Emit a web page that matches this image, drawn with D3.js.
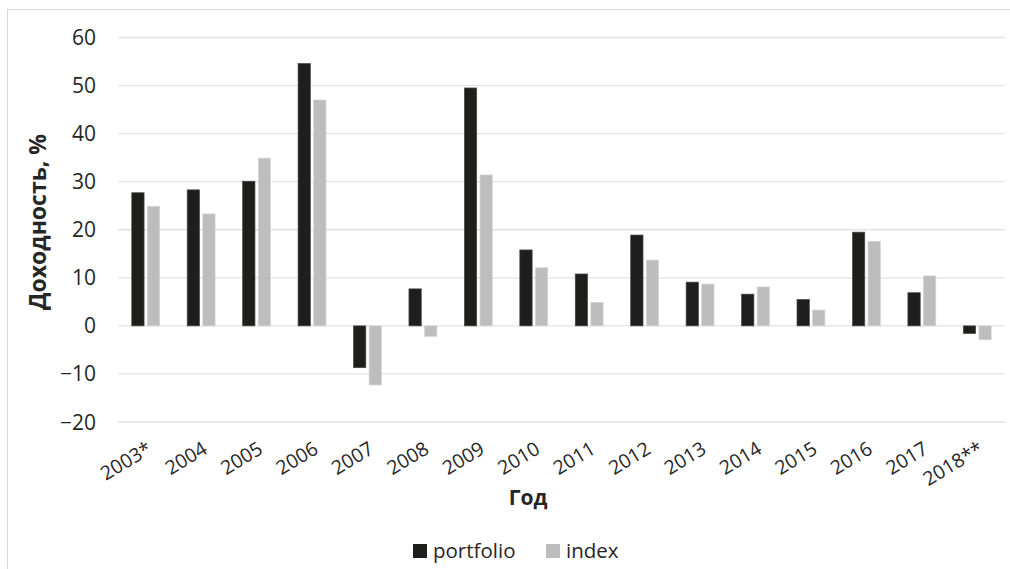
<!DOCTYPE html>
<html>
<head>
<meta charset="utf-8">
<script src="https://cdn.jsdelivr.net/npm/d3@7.9.0/dist/d3.min.js"></script>
<style>
  body { margin: 0; background: #fff; }
  svg { display: block; font-family: 'Open Sans', sans-serif; }
</style>
</head>
<body>
<svg id="chart" width="1010" height="569"></svg>
<script>
const years = ['2003*', '2004', '2005', '2006', '2007', '2008', '2009', '2010',
  '2011', '2012', '2013', '2014', '2015', '2016', '2017', '2018**'];
const portfolio = [27.7, 28.3, 30.1, 54.6, -8.7, 7.7, 49.5, 15.8, 10.8, 18.9, 9.1, 6.6, 5.5, 19.5, 6.9, -1.6];
const indexVals = [24.9, 23.3, 34.9, 47.0, -12.3, -2.2, 31.4, 12.1, 4.9, 13.7, 8.7, 8.1, 3.3, 17.6, 10.4, -2.9];
const seriesNames = ['portfolio', 'index'];
const seriesColors = ['#1e1e1c', '#bdbdbd'];
const yTicks = [-20, -10, 0, 10, 20, 30, 40, 50, 60];

const svg = d3.select('#chart');
const textColor = '#262626';

// outer chart border (cropped at right/bottom)
svg.append('path')
  .attr('d', 'M7.5,569 L7.5,9.5 L1010,9.5')
  .attr('fill', 'none')
  .attr('stroke', '#d9d9d9');

const x = d3.scaleBand().domain(years).range([118, 1005]);
const x1 = d3.scaleBand().domain(seriesNames).range([0, x.bandwidth()])
  .paddingInner(0.21).paddingOuter(0.882);
const y = d3.scaleLinear().domain([-20, 60]).range([422, 37.5]);

// gridlines
svg.append('g')
  .selectAll('line')
  .data(yTicks)
  .join('line')
  .attr('x1', 118).attr('x2', 1005)
  .attr('y1', (d) => y(d)).attr('y2', (d) => y(d))
  .attr('stroke', '#e3e3e3')
  .attr('stroke-width', 1.3);

// y tick labels
svg.append('g')
  .selectAll('text')
  .data(yTicks)
  .join('text')
  .attr('x', 96)
  .attr('y', (d) => y(d))
  .attr('dy', '0.36em')
  .attr('text-anchor', 'end')
  .attr('font-size', 21)
  .attr('fill', textColor)
  .text((d) => (d < 0 ? '\u2212' + Math.abs(d) : d));

// bars
const rows = years.map((yr, i) => ({ year: yr, values: [portfolio[i], indexVals[i]] }));
const groups = svg.append('g')
  .selectAll('g')
  .data(rows)
  .join('g')
  .attr('transform', (d) => `translate(${x(d.year)},0)`);

groups.selectAll('rect')
  .data((d) => d.values.map((v, j) => ({ key: seriesNames[j], value: v, idx: j })))
  .join('rect')
  .attr('x', (d) => x1(d.key))
  .attr('width', x1.bandwidth())
  .attr('y', (d) => y(Math.max(0, d.value)))
  .attr('height', (d) => Math.abs(y(d.value) - y(0)))
  .attr('fill', (d) => seriesColors[d.idx])
  .attr('stroke', (d) => (d.idx === 0 ? '#4a4a4a' : '#d6d6d6'))
  .attr('stroke-width', 0.7);

// x tick labels
svg.append('g')
  .selectAll('text')
  .data(years)
  .join('text')
  .attr('transform', (d) => `translate(${x(d) + x.bandwidth() / 2},440) rotate(-31)`)
  .attr('dy', '0.75em')
  .attr('text-anchor', 'end')
  .attr('font-size', 19.5)
  .attr('fill', textColor)
  .text((d) => d);

// axis titles
svg.append('text')
  .attr('transform', 'translate(46,222) rotate(-90)')
  .attr('text-anchor', 'middle')
  .attr('font-size', 23)
  .attr('font-weight', 'bold')
  .attr('fill', textColor)
  .text('Доходность, %');

svg.append('text')
  .attr('x', 528)
  .attr('y', 505)
  .attr('text-anchor', 'middle')
  .attr('font-size', 21)
  .attr('font-weight', 'bold')
  .attr('fill', textColor)
  .text('Год');

// legend
const legendX = [413, 546];
const legend = svg.append('g')
  .selectAll('g')
  .data(seriesNames)
  .join('g')
  .attr('transform', (d, i) => `translate(${legendX[i]},544)`);

legend.append('rect')
  .attr('width', 14).attr('height', 14)
  .attr('fill', (d, i) => seriesColors[i]);

legend.append('text')
  .attr('x', 20)
  .attr('y', 13.5)
  .attr('font-size', 20.5)
  .attr('fill', textColor)
  .text((d) => d);
</script>
</body>
</html>
